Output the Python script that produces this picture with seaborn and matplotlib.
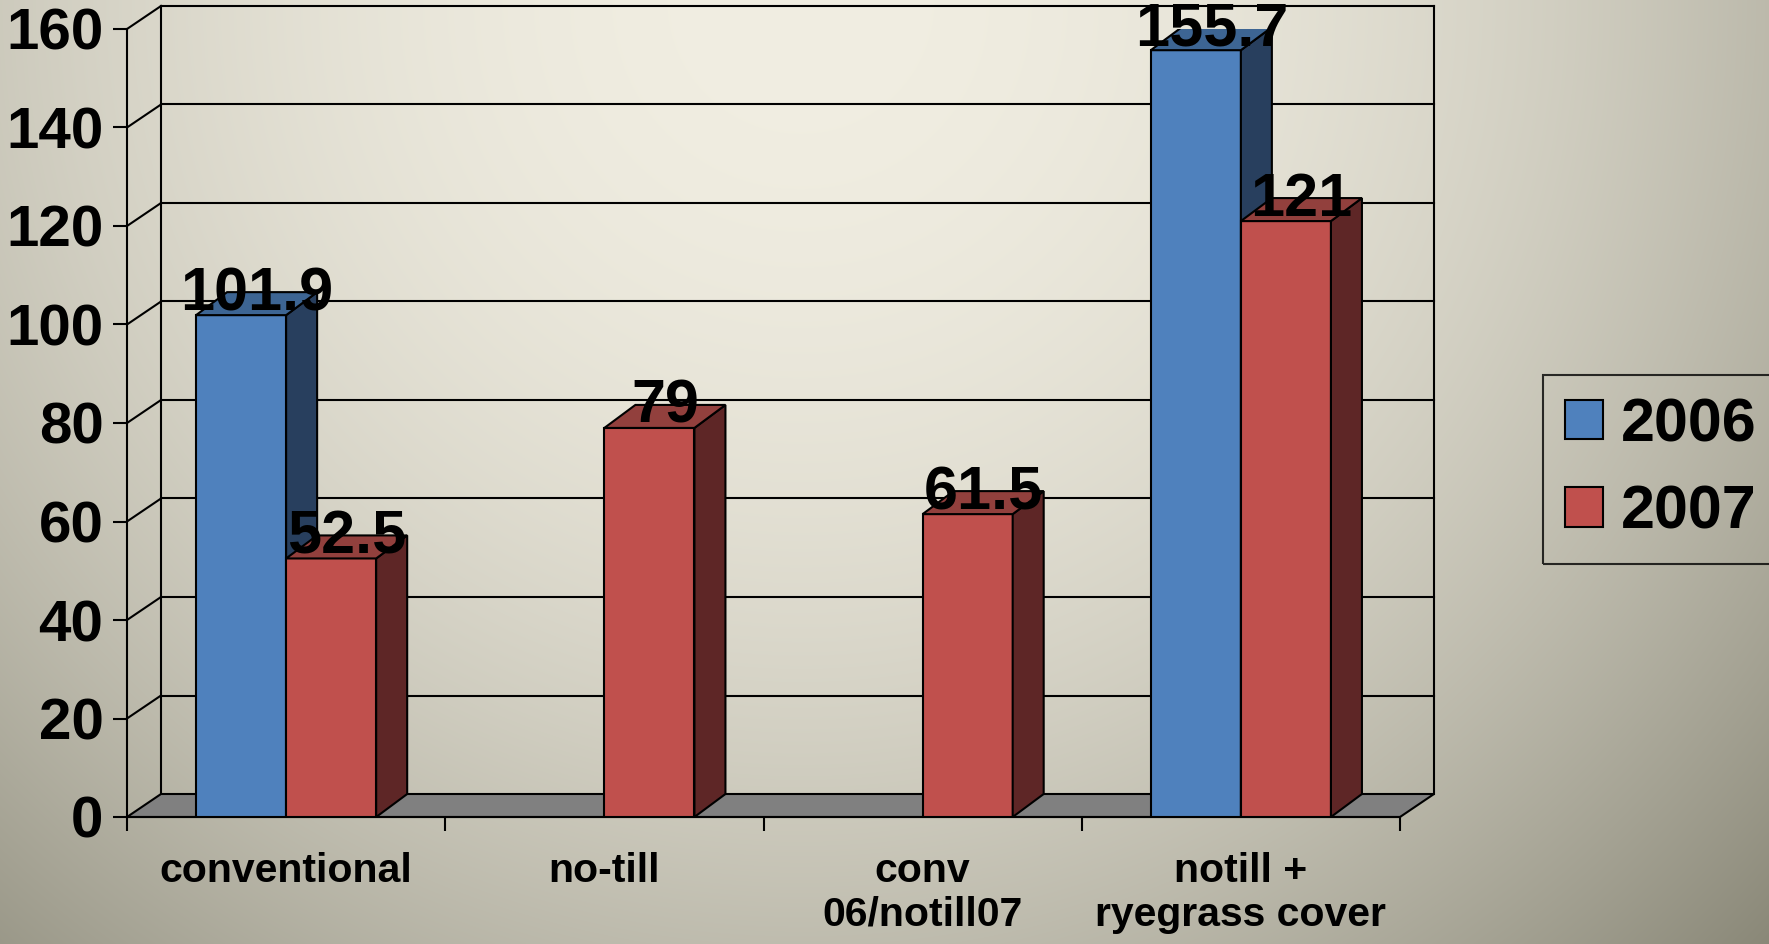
import numpy as np
import pandas as pd
import matplotlib
matplotlib.use("Agg")
import matplotlib.pyplot as plt
from matplotlib.patches import Polygon, Patch
import seaborn as sns

# data
categories = ["conventional", "no-till", "conv\n06/notill07", "notill +\nryegrass cover"]
years = ["2006", "2007"]
yield_2006 = [101.9, None, None, 155.7]
yield_2007 = [52.5, 79, 61.5, 121]
y_ticks = [0, 20, 40, 60, 80, 100, 120, 140, 160]

front_colors = {"2006": "#4f81bd", "2007": "#c0504d"}
side_colors = {"2006": "#283f5e", "2007": "#5e2626"}
top_colors = {"2006": "#3d6593", "2007": "#92403d"}

rows = []
for cat, a, b in zip(categories, yield_2006, yield_2007):
    if a is not None:
        rows.append({"cat": cat, "year": "2006", "value": a})
    if b is not None:
        rows.append({"cat": cat, "year": "2007", "value": b})
df = pd.DataFrame(rows)

plt.rcParams['font.family'] = ['Liberation Sans', 'DejaVu Sans']
plt.rcParams['font.weight'] = 'bold'

W, H = 1769, 944
fig = plt.figure(figsize=(W / 100, H / 100), dpi=100)

# radial-ish background like the slide
bg = fig.add_axes([0, 0, 1, 1], zorder=-10)
yy, xx = np.mgrid[0:H, 0:W]
r2 = ((xx - 800) ** 2 + yy ** 2) / 1350 ** 2
light = np.array([241, 238, 226]) / 255
dark = np.array([138, 136, 120]) / 255
img = light + (dark - light) * r2[..., None]
bg.imshow(np.clip(img, 0, 1), aspect='auto', extent=(0, 1, 0, 1))
bg.axis('off')

ax = fig.add_axes([127 / W, 1 - 817 / H, (1400 - 127) / W, (817 - 29) / H])
ax.set_facecolor('none')

sns.barplot(data=df, x='cat', y='value', hue='year', order=categories, hue_order=years,
            palette=front_colors, saturation=1, width=0.566, gap=0, errorbar=None,
            edgecolor='black', linewidth=1.5, legend=False, ax=ax)

ax.set_xlim(-0.5, 3.5)
ax.set_ylim(0, 160)

px_x = 4 / (1400 - 127)
px_y = 160 / (817 - 29)
dxw, dyw = 34 * px_x, 23 * px_y   # wall depth
dxb, dyb = 31 * px_x, 23 * px_y   # bar depth

lw = 1.5
# floor
floor = Polygon([(-0.5, 0), (3.5, 0), (3.5 + dxw, dyw), (-0.5 + dxw, dyw)], closed=True,
                facecolor='#808080', edgecolor='black', linewidth=lw, zorder=0.6, clip_on=False)
ax.add_patch(floor)
# walls + gridlines
for v in y_ticks[1:]:
    ax.plot([-0.5 + dxw, 3.5 + dxw], [v + dyw, v + dyw], color='black', lw=lw, zorder=0.5, clip_on=False)
    ax.plot([-0.5, -0.5 + dxw], [v, v + dyw], color='black', lw=lw, zorder=0.5, clip_on=False)
for xw in [-0.5 + dxw, 3.5 + dxw]:
    ax.plot([xw, xw], [dyw, 160 + dyw], color='black', lw=lw, zorder=0.5, clip_on=False)

# 3D sides and tops for each bar
bars = []
for cont, yr in zip(ax.containers, years):
    for p in cont:
        if np.isfinite(p.get_height()) and p.get_height() > 0:
            bars.append((p, yr))
bars.sort(key=lambda t: t[0].get_x())
for i, (p, yr) in enumerate(bars):
    z = 2 + i
    x0, w, h = p.get_x(), p.get_width(), p.get_height()
    x1 = x0 + w
    p.set_zorder(z)
    side = Polygon([(x1, 0), (x1 + dxb, dyb), (x1 + dxb, h + dyb), (x1, h)], closed=True,
                   facecolor=side_colors[yr], edgecolor='black', linewidth=lw, zorder=z + 0.1)
    top = Polygon([(x0, h), (x1, h), (x1 + dxb, h + dyb), (x0 + dxb, h + dyb)], closed=True,
                  facecolor=top_colors[yr], edgecolor='black', linewidth=lw, zorder=z + 0.2)
    ax.add_patch(side)
    ax.add_patch(top)
    ax.text(x0 + w / 2 + dxb / 2, h + 1.0, f"{h:g}", ha='center', va='baseline',
            fontsize=44, fontweight='bold', zorder=50, clip_on=False)

# axes styling
for s in ['top', 'right']:
    ax.spines[s].set_visible(False)
for s in ['left', 'bottom']:
    ax.spines[s].set_linewidth(lw)
    ax.spines[s].set_zorder(1)
ax.set_xlabel('')
ax.set_ylabel('')
ax.set_yticks(y_ticks)
ax.tick_params(axis='y', length=10, width=lw, pad=7, labelsize=42)
ax.set_xticks(range(len(categories)), categories)
ax.tick_params(axis='x', which='major', length=0, pad=25, labelsize=29.5)
ax.set_xticks([-0.5, 0.5, 1.5, 2.5, 3.5], minor=True)
ax.tick_params(axis='x', which='minor', length=10, width=lw)

handles = [Patch(facecolor=front_colors[y], edgecolor='black', linewidth=lw, label=y) for y in years]
leg = fig.legend(handles=handles, loc='upper left', bbox_to_anchor=(1543 / W, 1 - 375 / H),
                 fontsize=44, frameon=True, fancybox=False, edgecolor='black', facecolor='none',
                 framealpha=None, handlelength=0.62, handleheight=0.62, handletextpad=0.3,
                 labelspacing=0.5, borderpad=0.36, borderaxespad=0)
leg.get_frame().set_linewidth(lw)

fig.savefig('out.png', dpi=100)
